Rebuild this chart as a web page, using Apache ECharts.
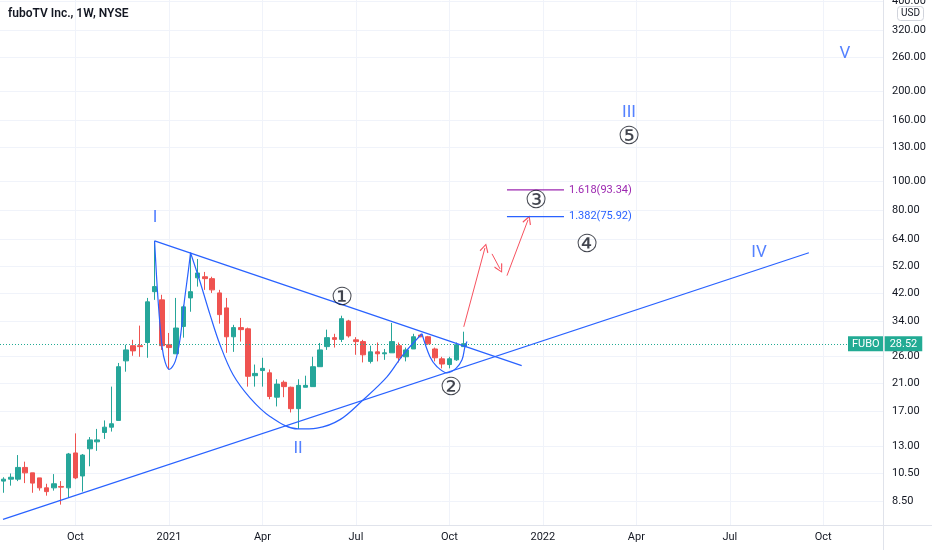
<!DOCTYPE html>
<html><head><meta charset="utf-8">
<script src="https://cdn.jsdelivr.net/npm/echarts@6/dist/echarts.min.js"></script>
<style>html,body{margin:0;padding:0;background:#fff}#c{width:932px;height:550px}</style>
</head><body><div id="c"></div>
<script>
// ---- weekly bars (week start dates) ----
const weeks = [
 '2020-07-20','2020-07-27','2020-08-03','2020-08-10','2020-08-17','2020-08-24','2020-08-31','2020-09-07','2020-09-14','2020-09-21','2020-09-28',
 '2020-10-05','2020-10-12','2020-10-19','2020-10-26','2020-11-02','2020-11-09','2020-11-16','2020-11-23','2020-11-30','2020-12-07','2020-12-14',
 '2020-12-21','2020-12-28','2021-01-04','2021-01-11','2021-01-18','2021-01-25','2021-02-01','2021-02-08','2021-02-15','2021-02-22','2021-03-01',
 '2021-03-08','2021-03-15','2021-03-22','2021-03-29','2021-04-05','2021-04-12','2021-04-19','2021-04-26','2021-05-03','2021-05-10','2021-05-17',
 '2021-05-24','2021-05-31','2021-06-07','2021-06-14','2021-06-21','2021-06-28','2021-07-05','2021-07-12','2021-07-19','2021-07-26','2021-08-02',
 '2021-08-09','2021-08-16','2021-08-23','2021-08-30','2021-09-06','2021-09-13','2021-09-20','2021-09-27','2021-10-04','2021-10-11'
];
const open  = [9.9,10.05,10.05,11.0,10.55,10.15,9.4,9.4,9.5,9.4,12.3,10.3,12.7,13.4,14.4,15.0,15.8,25.0,28.1,28.1,28.8,42.6,40.0,28.3,26.4,32.6,40.6,47.4,47.8,47.1,42.2,37.6,30.1,32.3,32.0,22.3,23.2,22.8,18.9,21.2,20.4,17.3,20.4,20.5,23.9,27.9,29.9,29.5,34.0,29.4,29.0,24.9,26.8,26.4,26.6,28.1,25.8,27.4,30.5,30.1,27.4,25.4,24.3,25.2,27.9];
const close = [10.05,10.2,11.0,10.55,9.75,9.4,9.13,9.7,9.45,12.2,10.15,12.1,13.6,13.6,15.0,15.4,23.9,27.2,27.0,27.9,39.4,44.3,28.1,27.7,32.2,37.9,42.6,49.2,47.1,43.2,35.7,30.1,32.3,31.8,22.2,22.7,23.6,19.0,20.9,20.5,17.3,20.7,20.7,23.9,27.2,29.9,29.5,34.6,30.3,29.0,26.2,26.8,26.4,26.6,29.0,25.6,27.2,30.1,30.1,28.5,25.6,24.4,25.4,28.3,28.52];
const low   = [9.05,9.56,9.9,9.75,9.05,9.2,8.85,9.2,8.26,8.7,10.05,9.13,11.1,12.5,13.7,14.5,15.8,23.0,26.0,25.8,25.6,40.0,27.2,23.4,26.4,29.9,36.5,44.3,43.2,42.2,33.3,26.6,26.8,29.0,20.5,20.5,20.5,18.6,17.6,18.9,16.8,14.8,20.4,20.5,23.9,27.2,27.7,28.9,29.9,26.2,24.7,24.5,24.9,25.2,26.6,24.7,24.9,27.4,30.0,28.3,24.9,23.6,23.6,25.0,27.9];
const high  = [10.2,10.5,12.1,11.5,10.55,10.15,9.7,10.45,9.9,12.3,14.3,12.2,13.9,14.8,15.8,20.5,24.6,28.3,29.4,32.8,40.6,63.0,41.6,31.0,40.6,38.5,57.5,54.8,49.6,47.8,43.2,40.6,33.0,34.8,32.3,24.3,25.6,23.4,21.7,21.5,20.5,21.7,22.3,25.8,28.7,31.8,30.8,35.4,34.3,30.0,29.4,28.1,28.8,27.4,33.5,28.8,27.7,30.8,30.8,30.3,27.7,25.8,25.8,28.8,31.3];
const lastPrice = 28.52;

// ---- axis ticks ----
const xTickDates = ['2020-09-28','2020-12-28','2021-03-29','2021-06-28','2021-09-27','2021-12-27','2022-03-28','2022-06-27','2022-09-26'];
const xTickTexts = ['Oct','2021','Apr','Jul','Oct','2022','Apr','Jul','Oct'];
const yTicks = [8.5,10.5,13,17,21,26,34,42,52,64,80,100,130,160,200,260,320,400];

// ---- drawings, anchored as [bar index from first bar, price] ----
const trendDown = [[21.0,63.0],[72.06,24.1]];
const trendUp   = [[-0.08,7.37],[112.0,57.5]];
const cupSmall  = [[21.0,63.0],[21.5,39.4],[22.06,27.7],[22.48,24.7],[23.03,23.4],[23.87,24.9],[24.57,29.9],[25.13,39.4],[25.68,49.7],[26.0,57.5]];
const cupBig    = [[26.0,57.5],[27.32,46.0],[28.71,35.7],[30.1,28.3],[31.9,22.5],[34.27,18.8],[37.05,16.3],[40.95,14.8],[43.59,14.9],[46.79,15.9],[49.99,18.5],[53.32,22.1],[55.55,26.2],[58.19,30.8]];
const cupRight  = [[58.19,30.8],[59.3,25.8],[60.28,23.9],[61.67,22.8],[62.92,23.6],[63.76,25.2],[64.17,27.9],[64.45,29.0]];
const arrows    = [[64.0,32.5,66.95,59.7],[67.93,57.0,69.04,50.8],[70.01,48.2,72.94,74.1]];
const fibRatios = ['1.618','1.382'];
const fibPrices = [93.34,75.92];
const fibRange  = [70.01,77.94];
const waveNames = ['I','II','III','IV','V'];
const wavePts   = [[21.06,75.2],[40.95,12.7],[86.98,168.7],[105.06,57.5],[117.02,265.6]];
const subNames  = ['①','②','③','④','⑤'];
const subPts    = [[47.06,40.3],[62.23,20.2],[74.05,85.1],[81.14,60.7],[86.98,139.2]];

const WEEK = 7*86400000;
const t0 = Date.parse(weeks[0]);
const barOf = d => Math.round((Date.parse(d) - t0) / WEEK);
const xTickVals = xTickDates.map(barOf);
const xMin = -0.5, xMax = -0.5 + 883/7.19;

const candleData = weeks.map((w,i) => [i, open[i], close[i], low[i], high[i]]);
const BLUE = '#2962ff';
const drawLine = (pts, smooth) => ({
  type:'line', data: pts, symbol:'none', silent:true, smooth: smooth ? 0.35 : false,
  lineStyle:{color:BLUE, width:1.2}, z:5, animation:false
});

const chart = echarts.init(document.getElementById('c'), null, {renderer:'canvas'});
chart.setOption({
  animation:false,
  backgroundColor:'#ffffff',
  grid:{left:0, top:0, right:49, bottom:25, containLabel:false, outerBoundsMode:'none'},
  xAxis:{
    type:'value', min:xMin, max:xMax,
    axisLine:{show:false}, axisTick:{show:false, customValues:xTickVals},
    axisLabel:{customValues:xTickVals, color:'#131722', fontSize:11, fontFamily:'Roboto', margin:7,
      formatter: v => { const i = xTickVals.indexOf(Math.round(v)); return i >= 0 ? xTickTexts[i] : ''; }},
    splitLine:{show:true, lineStyle:{color:'#f0f3fa', width:1}}
  },
  yAxis:{
    type:'log', position:'right', min:7.06, max:403,
    axisLine:{show:false}, axisTick:{show:false, customValues:yTicks},
    axisLabel:{customValues:yTicks, color:'#131722', fontSize:11, fontFamily:'Roboto', margin:9,
      formatter: v => Number(v).toFixed(2)},
    splitLine:{show:true, lineStyle:{color:'#f0f3fa', width:1}}
  },
  series:[
    {
      type:'candlestick', data:candleData, encode:{x:0, y:[1,2,3,4]}, barWidth:5,
      itemStyle:{color:'#26a69a', color0:'#ef5350', borderColor:'#26a69a', borderColor0:'#ef5350', borderWidth:1},
      z:3,
      markLine:{
        symbol:'none', silent:true, animation:false,
        lineStyle:{color:'#22ab94', type:[1,2], width:1},
        label:{show:true, position:'end', distance:0, offset:[-35,0],
          formatter: p => '{n|FUBO}{s|}{p|' + Number(p.value).toFixed(2) + '}',
          rich:{
            n:{backgroundColor:'#22ab94', color:'#fff', fontSize:11, fontFamily:'Roboto', padding:[2,4,2,4], lineHeight:11},
            s:{width:1},
            p:{backgroundColor:'#22ab94', color:'#fff', fontSize:11, fontFamily:'Roboto', padding:[2,5,2,5], lineHeight:11}
          }},
        data:[{yAxis:lastPrice}]
      }
    },
    drawLine(trendDown,false),
    drawLine(trendUp,false),
    drawLine(cupSmall,true),
    drawLine(cupBig,true),
    drawLine(cupRight,true),
    {
      type:'lines', coordinateSystem:'cartesian2d', polyline:false, silent:true, z:6,
      symbol:['none','path://M0,0 L5,9 L4,10 L0,2.4 L-4,10 L-5,9 Z'], symbolSize:[8,9],
      lineStyle:{color:'#f7525f', width:1, opacity:1, curveness:0},
      itemStyle:{color:'#f7525f'},
      data: arrows.map(a => ({coords:[[a[0],a[1]],[a[2],a[3]]]}))
    },
    ...fibPrices.map((v,i) => ({
      type:'line', symbol:'none', silent:true, z:6,
      data:[[fibRange[0],v],[fibRange[1],v]],
      lineStyle:{color: i===0 ? '#9c27b0' : BLUE, width:1.3},
      endLabel:{show:true, distance:5, formatter: fibRatios[i] + '(' + v.toFixed(2) + ')',
        color: i===0 ? '#9c27b0' : BLUE, fontSize:11, fontFamily:'Roboto'}
    })),
    {
      type:'scatter', symbol:'circle', symbolSize:1, silent:true, z:7,
      itemStyle:{color:'transparent'},
      data: wavePts.map((p,i) => ({name:waveNames[i], value:p})),
      label:{show:true, position:'inside', formatter:'{b}', color:BLUE, fontSize:17, fontFamily:'Roboto'}
    },
    {
      type:'scatter', symbol:'circle', symbolSize:1, silent:true, z:7,
      itemStyle:{color:'transparent'},
      data: subPts.map((p,i) => ({name:subNames[i], value:p})),
      label:{show:true, position:'inside', formatter:'{b}', color:'#131722', fontSize:25, fontFamily:'DejaVu Sans'}
    }
  ],
  graphic:[
    {type:'line', shape:{x1:883.5, y1:0, x2:883.5, y2:550}, style:{stroke:'#e0e3eb', lineWidth:1}, z:10, silent:true},
    {type:'line', shape:{x1:0, y1:525.5, x2:932, y2:525.5}, style:{stroke:'#e0e3eb', lineWidth:1}, z:10, silent:true},
    {type:'text', left:8, top:8, style:{text:'fuboTV Inc., 1W, NYSE', fill:'#131722', font:'600 12px Roboto'}, z:10, silent:true},
    {type:'rect', shape:{x:897.5, y:6.5, width:26, height:14, r:3}, style:{fill:'#fff', stroke:'#d1d4dc', lineWidth:1}, z:10, silent:true},
    {type:'text', x:910.5, y:13.5, style:{text:'USD', fill:'#131722', font:'10px Roboto', align:'center', verticalAlign:'middle'}, z:11, silent:true}
  ]
});
</script></body></html>
